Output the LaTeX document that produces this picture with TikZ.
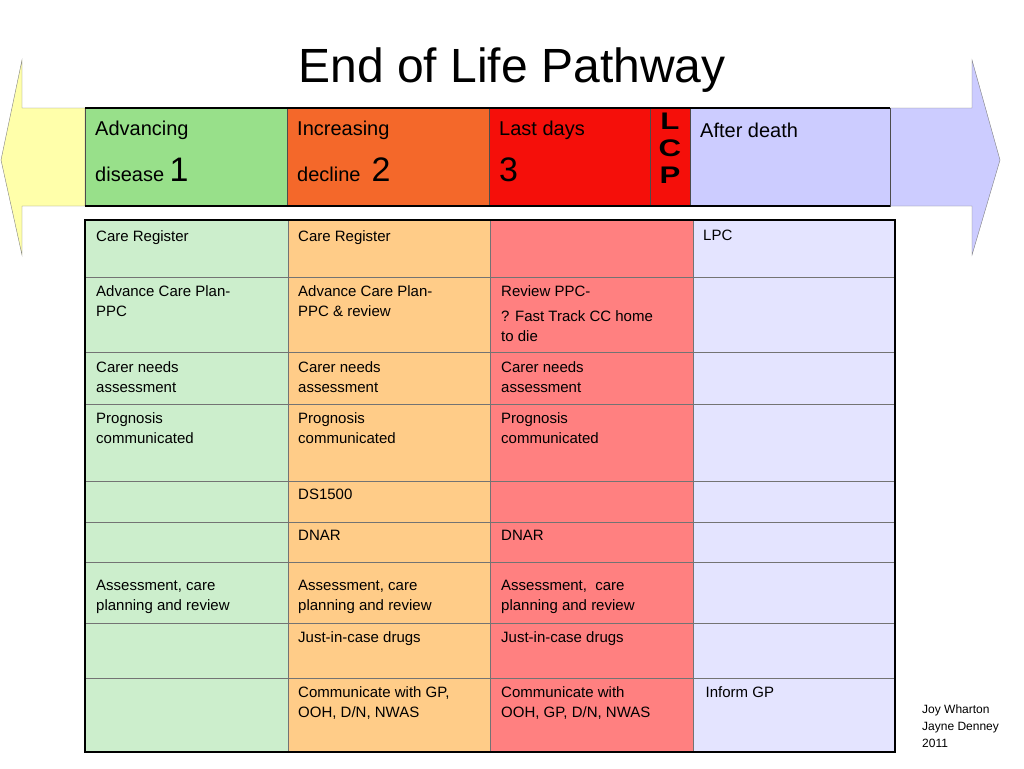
\documentclass[tikz,border=0pt]{standalone}
\usepackage{fontspec}
\setmainfont{Liberation Sans}
\definecolor{hgreen}{HTML}{98E08A}
\definecolor{horange}{HTML}{F4682A}
\definecolor{hred}{HTML}{F50F0A}
\definecolor{hlav}{HTML}{CCCCFF}
\definecolor{tgreen}{HTML}{CCEECC}
\definecolor{torange}{HTML}{FFCC88}
\definecolor{tred}{HTML}{FF8080}
\definecolor{tlav}{HTML}{E4E4FF}
\definecolor{arryel}{HTML}{FFFFAA}
\tikzset{
  celltext/.style={anchor=north west,inner sep=0pt,align=left,
    font=\fontsize{15}{20}\selectfont},
  headtext/.style={anchor=north west,inner sep=0pt,align=left,
    font=\fontsize{20}{26}\selectfont},
  grid/.style={draw=black!55,line width=0.8pt}
}
\begin{document}
\begin{tikzpicture}[x=1pt,y=-1pt]
\useasboundingbox (0,0) rectangle (1024,768);
% double arrow
\draw[gray,fill=arryel]
  (85,108) -- (22,108) -- (22,60) -- (1,160) -- (22,255) -- (22,206) -- (85,206) -- cycle;
\draw[gray,fill=hlav]
  (890,108) -- (972,108) -- (972,60) -- (1000,160) -- (972,255) -- (972,206) -- (890,206) -- cycle;
\node[font=\fontsize{48}{54}\selectfont] (title) at (512,70) {End of Life Pathway};
% header
\foreach \xa/\xb/\col in {85/287/hgreen,287/489/horange,489/650/hred,650/690/hred,690/890/hlav}
  \draw[fill=\col,draw=black!70] (\xa,108) rectangle (\xb,206);
\draw[line width=2.5pt] (85,108) -- (890,108) (85,206) -- (890,206);
\node[headtext] (h1) at (95,121) {Advancing\\[17pt]disease \fontsize{34}{34}\selectfont 1};
\node[headtext] (h2) at (297,121) {Increasing\\[17pt]decline \ \fontsize{34}{34}\selectfont 2};
\node[headtext] (h3) at (499,121) {Last days\\[17pt]\fontsize{34}{34}\selectfont 3};
\node[anchor=north,inner sep=0pt,align=center,font=\fontsize{24}{27}\bfseries\selectfont,
  xscale=1.3] (lcp) at (670,113) {L\\C\\P};
\node[headtext] (h4) at (700,123) {After death};
% table
\foreach \ya/\yb in {220/277,277/352,352/404,404/481,481/522,522/562,562/623,623/678,678/752}
  \foreach \xa/\xb/\col in {85/288/tgreen,288/490/torange,490/693/tred,693/895/tlav}
    \fill[\col] (\xa,\ya) rectangle (\xb,\yb);
\foreach \ya in {277,352,404,481,522,562,623,678}
  \draw[grid] (85,\ya) -- (895,\ya);
\foreach \xa in {288,490,693}
  \draw[grid] (\xa,220) -- (\xa,752);
\draw[line width=2.5pt] (85,220) rectangle (895,752);
\foreach \y/\a/\b/\c/\d [count=\i] in {
  230/{Care Register}/{Care Register}/{}/{LPC},
  285/{Advance Care Plan-\\PPC}/{Advance Care Plan-\\PPC \& review}/{Review PPC-\\[5pt]? Fast Track CC home\\to die}/{},
  361/{Carer needs\\assessment}/{Carer needs\\assessment}/{Carer needs\\assessment}/{},
  412/{Prognosis\\communicated}/{Prognosis\\communicated}/{Prognosis\\communicated}/{},
  489/{}/{DS1500}/{}/{},
  530/{}/{DNAR}/{DNAR}/{},
  580/{Assessment, care\\planning and review}/{Assessment, care\\planning and review}/{Assessment,\ \ care\\planning and review}/{},
  631/{}/{Just-in-case drugs}/{Just-in-case drugs}/{},
  686/{}/{Communicate with GP,\\OOH, D/N, NWAS}/{Communicate with\\OOH, GP, D/N, NWAS}/{\,Inform GP}
}{
  \node[celltext] (a\i) at (96,\y) {\a};
  \node[celltext] (b\i) at (298,\y) {\b};
  \node[celltext] (c\i) at (501,\y) {\c};
  \node[celltext] (d\i) at (703,\y) {\d};
}
\node[anchor=north west,inner sep=0pt,align=left,font=\fontsize{12}{17}\selectfont]
  (authors) at (922,705) {Joy Wharton\\Jayne Denney\\2011};
\end{tikzpicture}
\end{document}
